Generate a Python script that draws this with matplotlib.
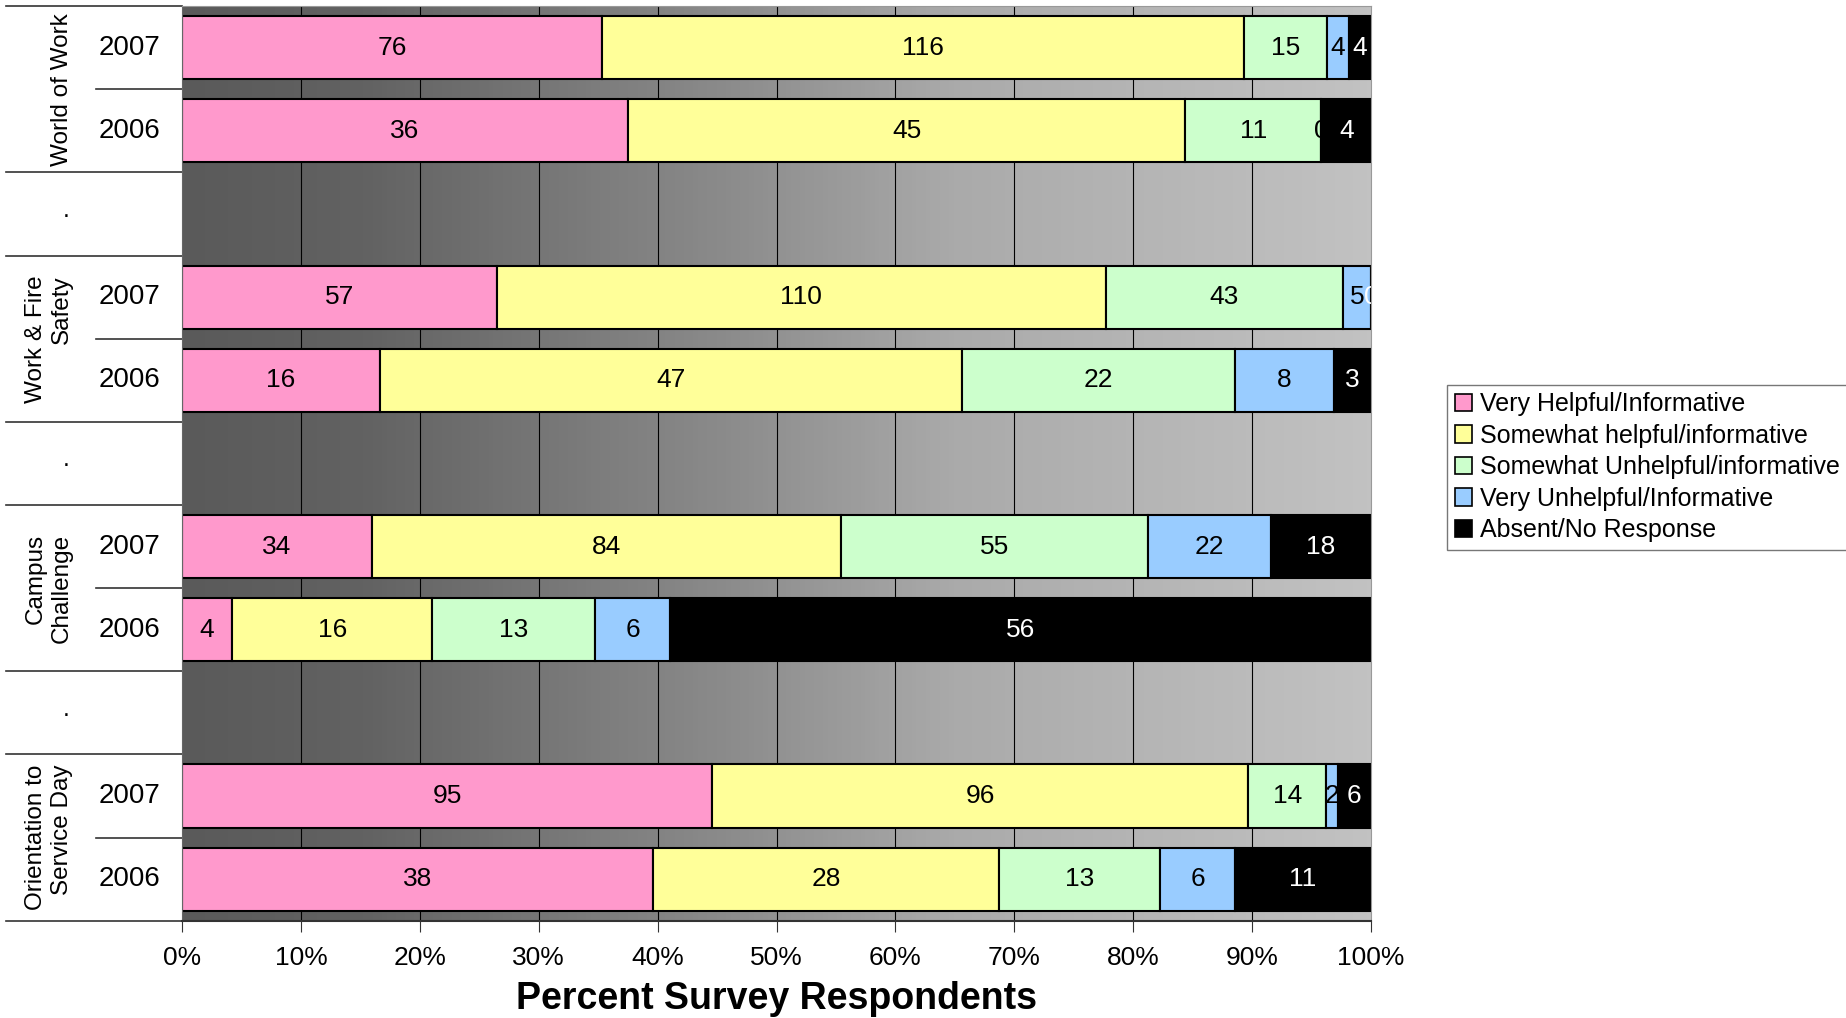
import matplotlib.pyplot as plt
import numpy as np
from matplotlib.colors import LinearSegmentedColormap
from matplotlib.patches import Patch

# Survey counts per program and year (rows top to bottom, gap rows are None)
row_labels = ['2007', '2006', '.', '2007', '2006', '.', '2007', '2006', '.', '2007', '2006']
programs = ['World of Work', 'Work & Fire\nSafety', 'Campus\nChallenge', 'Orientation to\nService Day']
program_rows = [(0, 1), (3, 4), (6, 7), (9, 10)]

very_helpful = [76, 36, None, 57, 16, None, 34, 4, None, 95, 38]
somewhat_helpful = [116, 45, None, 110, 47, None, 84, 16, None, 96, 28]
somewhat_unhelpful = [15, 11, None, 43, 22, None, 55, 13, None, 14, 13]
very_unhelpful = [4, 0, None, 5, 8, None, 22, 6, None, 2, 6]
absent = [4, 4, None, 0, 3, None, 18, 56, None, 6, 11]

series = [very_helpful, somewhat_helpful, somewhat_unhelpful, very_unhelpful, absent]
series_names = ['Very Helpful/Informative', 'Somewhat helpful/informative',
                'Somewhat Unhelpful/informative', 'Very Unhelpful/Informative',
                'Absent/No Response']
colors = ['#FF99CC', '#FFFF99', '#CCFFCC', '#99CCFF', '#000000']
text_colors = ['black', 'black', 'black', 'black', 'white']

plt.rcParams['font.family'] = ['Liberation Sans', 'DejaVu Sans']
narrow = ['Liberation Sans Narrow', 'Liberation Sans', 'DejaVu Sans']

fig = plt.figure(figsize=(18.46, 10.18), dpi=100)
ax = fig.add_axes([0.0986, 0.0955, 0.6441, 0.8985])

# gray gradient background
bg = LinearSegmentedColormap.from_list('bg', [(0, '#5a5a5a'), (0.15, '#626262'), (0.45, '#8a8a8a'),
                                              (0.65, '#aaaaaa'), (1, '#c2c2c2')])
ax.imshow(np.linspace(0, 1, 256).reshape(1, -1), cmap=bg, aspect='auto',
          extent=[0, 100, 10.5, -0.5], zorder=0)
for g in range(10, 100, 10):
    ax.axvline(g, color='black', lw=0.8, zorder=1)

rows = np.arange(len(row_labels))
for i in rows:
    if very_helpful[i] is None:
        continue
    vals = [s[i] for s in series]
    total = sum(vals)
    left = 0
    for j, v in enumerate(vals):
        pct = 100 * v / total
        ax.barh(i, pct, left=left, height=0.76, color=colors[j], edgecolor='black',
                lw=1.5, zorder=2 + j * 0.1)
        ax.text(left + pct / 2, i, str(v), ha='center', va='center', fontsize=19,
                color=text_colors[j], zorder=2.05 + j * 0.1, clip_on=True)
        left += pct

ax.set_xlim(0, 100)
ax.set_ylim(10.5, -0.5)
ax.set_yticks([])
ax.set_xticks(range(0, 101, 10))
ax.set_xticklabels([f'{t}%' for t in range(0, 101, 10)], family=narrow, fontsize=19)
ax.tick_params(axis='x', length=8, pad=10, color='#333333')
for s in ['top', 'right']:
    ax.spines[s].set_color('#999999')
ax.spines['left'].set_color('#666666')
ax.spines['bottom'].set_color('#333333')
ax.spines['bottom'].set_linewidth(1.5)
ax.set_xlabel('Percent Survey Respondents', family=narrow, fontsize=27,
              fontweight='bold', labelpad=8)

# left-hand category labels and separators
tr = ax.get_yaxis_transform()
for i, lab in enumerate(row_labels):
    if lab == '.':
        ax.text(-0.097, i - 0.05, '.', ha='center', va='center', fontsize=18,
                transform=tr, clip_on=False)
    else:
        ax.text(-0.044, i, lab, ha='center', va='center', fontsize=20,
                transform=tr, clip_on=False)
for name, (a, b) in zip(programs, program_rows):
    ax.text(-0.0915, (a + b) / 2, name, ha='right', va='center', rotation=90,
            fontsize=17.5, linespacing=1.25, transform=tr, clip_on=False)
    ax.plot([-0.072, 0], [a + 0.5, a + 0.5], color='#333333', lw=1.2,
            transform=tr, clip_on=False)

for y in [-0.5, 1.5, 2.5, 4.5, 5.5, 7.5, 8.5, 10.5]:
    ax.plot([-0.148, 0], [y, y], color='#333333', lw=1.2, transform=tr, clip_on=False)

handles = [Patch(facecolor=c, edgecolor='black', lw=1.2) for c in colors]
leg = fig.legend(handles, series_names, loc='upper left', bbox_to_anchor=(0.784, 0.622),
                 fontsize=18, frameon=True, fancybox=False, handlelength=0.7,
                 handleheight=0.7, handletextpad=0.3, labelspacing=0.3,
                 borderpad=0.3, borderaxespad=0)
leg.get_frame().set_edgecolor('#555555')
leg.get_frame().set_linewidth(1.0)

fig.savefig('out.png', dpi=100)
